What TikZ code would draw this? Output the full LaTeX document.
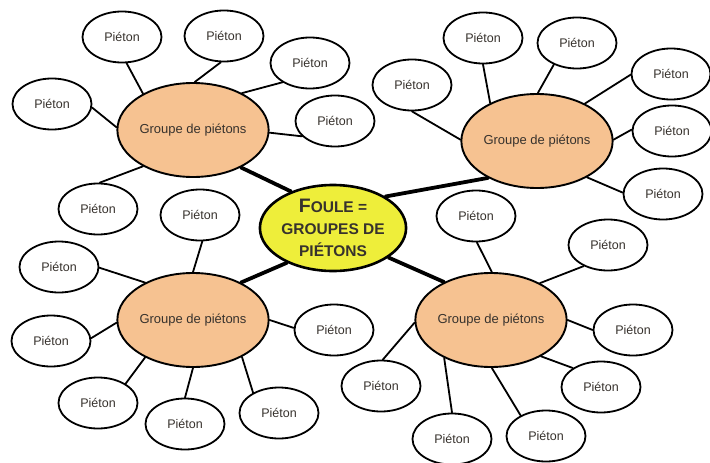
\documentclass[tikz,border=0pt]{standalone}
\usepackage{fontspec}
\setmainfont{Liberation Sans}
\usetikzlibrary{shapes.geometric}
\definecolor{peach}{RGB}{246,194,145}
\definecolor{hubyellow}{RGB}{238,238,58}
\definecolor{inkgray}{RGB}{55,50,45}
\tikzset{
  ped/.style={ellipse, draw=black, line width=1.8pt, fill=white,
    minimum width=79pt, minimum height=51pt, inner sep=0pt,
    text=inkgray, font=\fontsize{12.5}{14}\selectfont},
  grp/.style={ellipse, draw=black, line width=1.9pt, fill=peach,
    minimum width=140pt, minimum height=94pt, inner sep=0pt,
    text=inkgray, font=\fontsize{13}{15}\selectfont},
  hub/.style={ellipse, draw=black, line width=2.6pt, fill=hubyellow,
    minimum width=142pt, minimum height=86pt, inner sep=0pt,
    text=inkgray, align=center, font=\bfseries\fontsize{15.5}{22}\selectfont},
  link/.style={line width=1.8pt, line cap=round},
  biglink/.style={line width=3.8pt, line cap=round}
}
\begin{document}
\begin{tikzpicture}[x=1pt,y=-1pt]
\useasboundingbox (0,0) rectangle (710,463);

% spokes to the hub (drawn first, under the ellipses)
\coordinate (hc) at (333,228);
\coordinate (c1) at (193,130);
\coordinate (c2) at (537,141);
\coordinate (c3) at (193,320);
\coordinate (c4) at (491,320);

% groups
\node[grp] (g1) at (c1) {Groupe de piétons};
\node[grp] (g2) at (c2) {Groupe de piétons};
\node[grp] (g3) at (c3) {Groupe de piétons};
\node[grp] (g4) at (c4) {Groupe de piétons};

% central hub
\node[hub] (h) at (hc) {{\fontsize{19.5}{22}\selectfont F}OULE =\\GROUPES DE\\PIÉTONS};

\draw[biglink] (g1.322) -- (h.139);
\draw[biglink] (g2.217) -- (h.31);
\draw[biglink] (g3.38) -- (h.217);
\draw[biglink] (g4.141) -- (h.332);

% pedestrians, upper-left group
\node[ped] (a1) at (122,37) {Piéton};
\node[ped] (a2) at (224,36) {Piéton};
\node[ped] (a3) at (310,63) {Piéton};
\node[ped] (a4) at (335,121) {Piéton};
\node[ped] (a5) at (52,104) {Piéton};
\node[ped] (a6) at (98,209) {Piéton};
\draw[link] (a1.280) -- (g1.144);
\draw[link] (a2.263) -- (g1.88);
\draw[link] (a3.215) -- (g1.37);
\draw[link] (a4.205) -- (g1.358);
\draw[link] (a5.355) -- (g1.178);
\draw[link] (a6.86) -- (g1.216);

% pedestrians, upper-right group
\node[ped] (b1) at (483,38) {Piéton};
\node[ped] (b2) at (577,43) {Piéton};
\node[ped] (b3) at (671,74) {Piéton};
\node[ped] (b4) at (672,131) {Piéton};
\node[ped] (b5) at (663,194) {Piéton};
\node[ped] (b6) at (412,85) {Piéton};
\draw[link] (b1.270) -- (g2.141);
\draw[link] (b2.223) -- (g2.89);
\draw[link] (b3.181) -- (g2.38);
\draw[link] (b4.178) -- (g2.1);
\draw[link] (b5.178) -- (g2.324);
\draw[link] (b6.270) -- (g2.179);

% pedestrians, lower-left group
\node[ped] (d1) at (200,215) {Piéton};
\node[ped] (d2) at (59,267) {Piéton};
\node[ped] (d3) at (51,341) {Piéton};
\node[ped] (d4) at (98,403) {Piéton};
\node[ped] (d5) at (185,424) {Piéton};
\node[ped] (d6) at (279,413) {Piéton};
\node[ped] (d7) at (334,330) {Piéton};
\draw[link] (d1.275) -- (g3.90);
\draw[link] (d2.359) -- (g3.142);
\draw[link] (d3.4) -- (g3.182);
\draw[link] (d4.35) -- (g3.218);
\draw[link] (d5.90) -- (g3.270);
\draw[link] (d6.142) -- (g3.323);
\draw[link] (d7.177) -- (g3.0);

% pedestrians, lower-right group
\node[ped] (e1) at (476,216) {Piéton};
\node[ped] (e2) at (608,245) {Piéton};
\node[ped] (e3) at (633,330) {Piéton};
\node[ped] (e4) at (601,387) {Piéton};
\node[ped] (e5) at (546,436) {Piéton};
\node[ped] (e6) at (452,439) {Piéton};
\node[ped] (e7) at (381,386) {Piéton};
\draw[link] (e1.272) -- (g4.89);
\draw[link] (e2.221) -- (g4.37);
\draw[link] (e3.180) -- (g4.0);
\draw[link] (e4.146) -- (g4.324);
\draw[link] (e5.141) -- (g4.271);
\draw[link] (e6.90) -- (g4.219);
\draw[link] (e7.86) -- (g4.182);
\end{tikzpicture}
\end{document}
